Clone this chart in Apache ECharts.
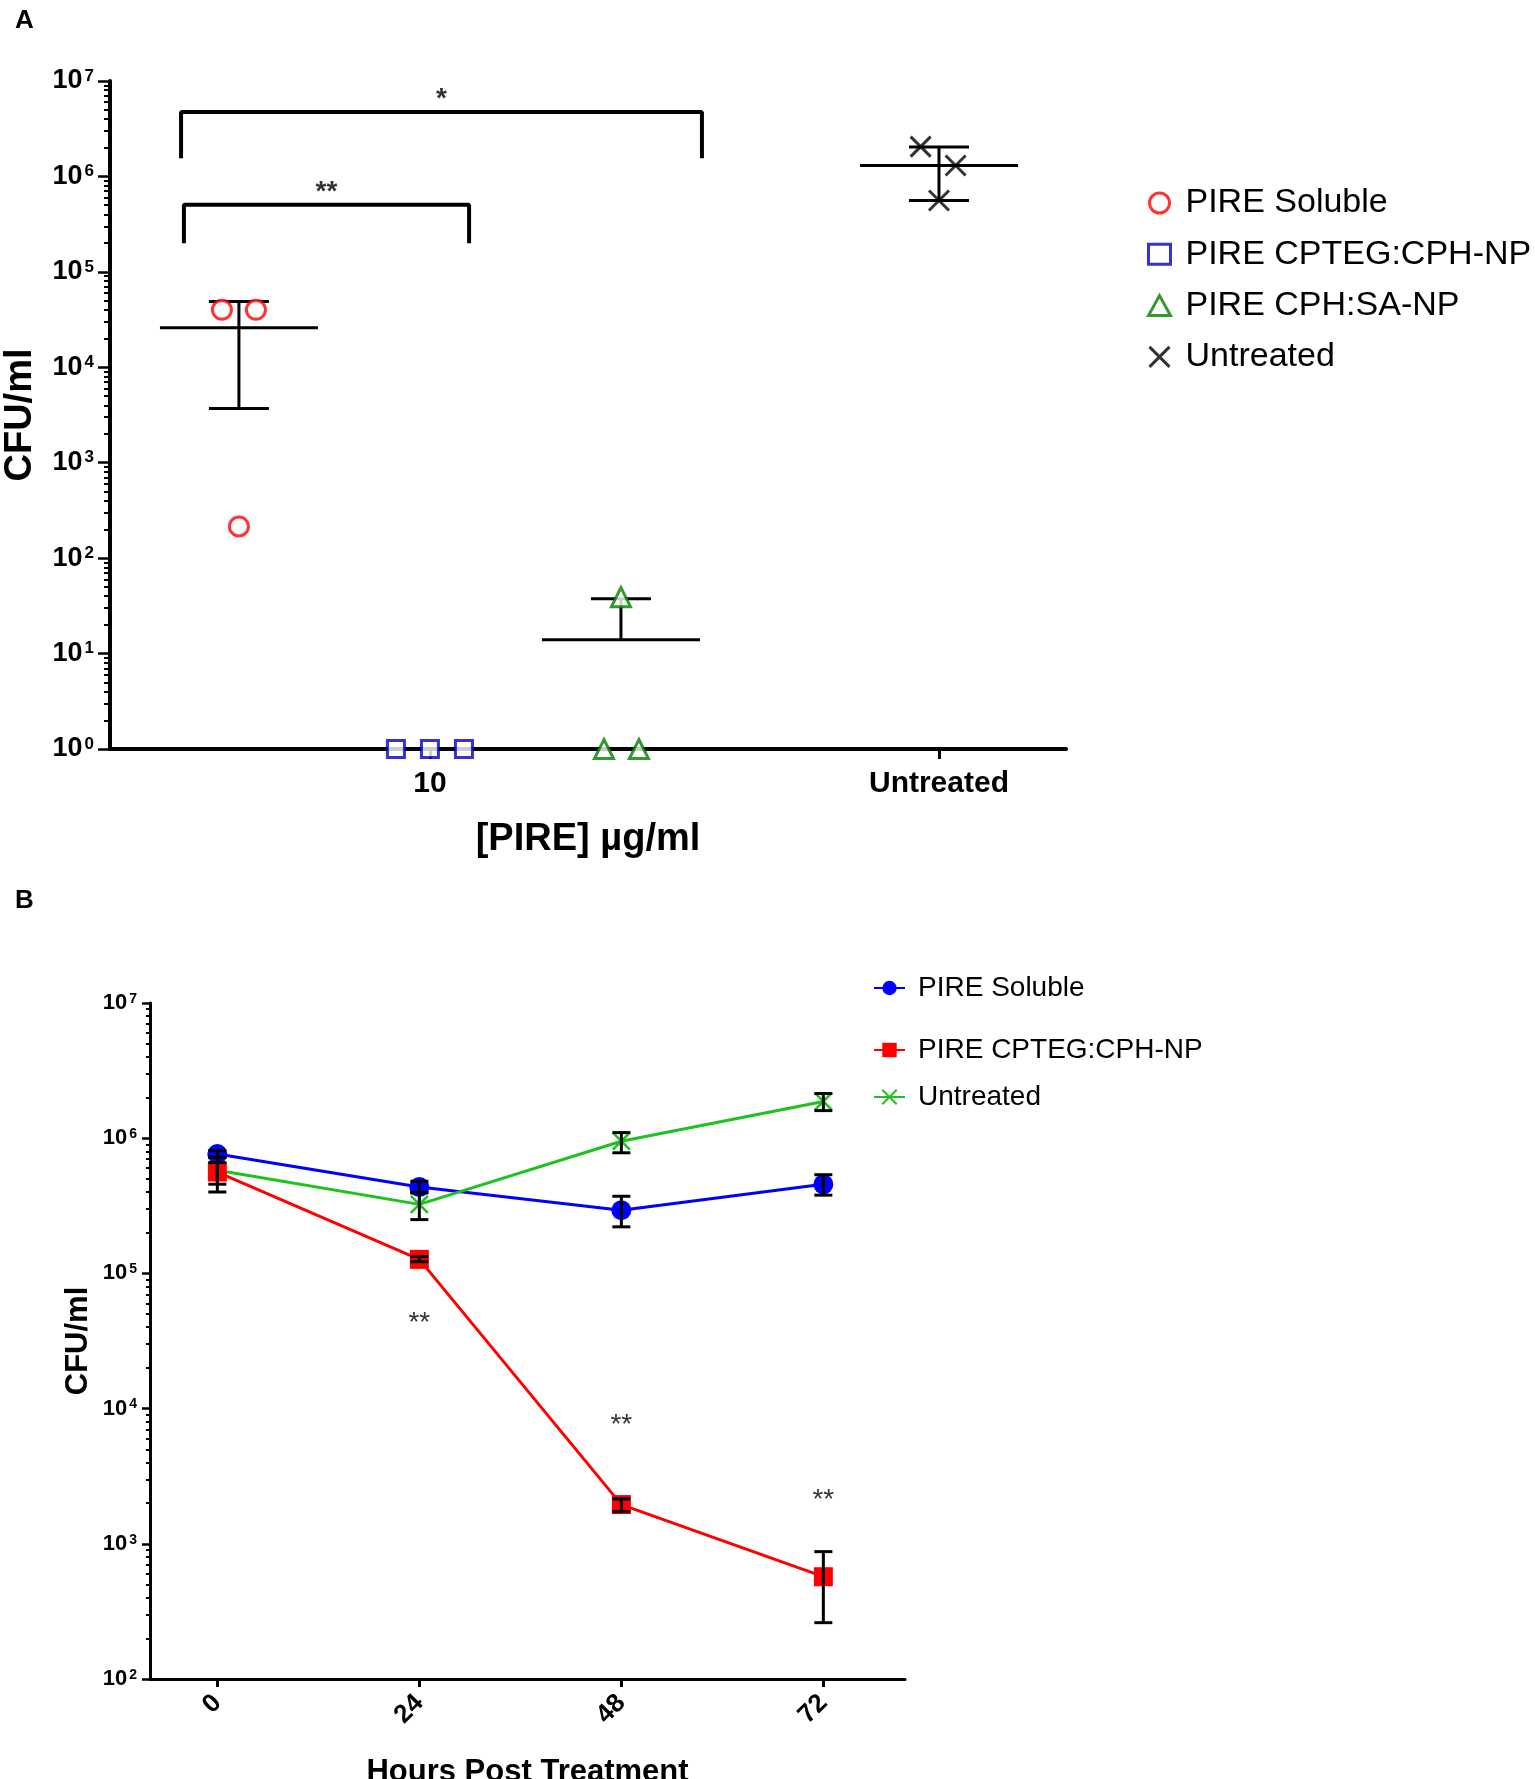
<!DOCTYPE html>
<html>
<head>
<meta charset="utf-8">
<script src="https://cdn.jsdelivr.net/npm/echarts@6/dist/echarts.min.js"></script>
<style>
html,body{margin:0;padding:0;background:#fff;}
#chart{width:1535px;height:1779px;}
</style>
</head>
<body>
<div id="chart"></div>
<script>
// ---------------- Panel A data ----------------
const groupNamesA = ['PIRE Soluble', 'PIRE CPTEG:CPH-NP', 'PIRE CPH:SA-NP', 'Untreated'];
const xTickLabelsA = ['10', 'Untreated'];
const solubleA = [4.0e4, 4.0e4, 215];
const cptegA = [1, 1, 1];
const cphsaA = [39, 1, 1];
const untreatedA = [2.05e6, 1.3e6, 5.6e5];
const meanA = [2.6e4, 1, 14, 1.3e6];
const sdLowA = [3.7e3, null, null, 5.6e5];
const sdHighA = [4.9e4, null, 37.5, 2.04e6];
const bracketFromA = [0.697, 0.712];
const bracketToA = [3.424, 2.205];
const bracketTopA = [4.73e6, 5.04e5];
const bracketFootA = [1.55e6, 2.0e5];
const bracketTextA = ['*', '**'];

// ---------------- Panel B data ----------------
const hoursB = [0, 24, 48, 72];
const seriesNamesB = ['PIRE Soluble', 'PIRE CPTEG:CPH-NP', 'Untreated'];
const solubleB = [7.64e5, 4.35e5, 2.93e5, 4.56e5];
const solubleLowB = [7.2e5, 3.95e5, 2.21e5, 3.79e5];
const solubleHighB = [8.1e5, 4.8e5, 3.72e5, 5.37e5];
const cptegB = [5.62e5, 1.27e5, 1.95e3, 571];
const cptegLowB = [4.0e5, 1.22e5, 1.73e3, 261];
const cptegHighB = [7.26e5, 1.33e5, 2.15e3, 875];
const untreatedB = [5.8e5, 3.24e5, 9.5e5, 1.87e6];
const untreatedLowB = [4.57e5, 2.5e5, 7.8e5, 1.6e6];
const untreatedHighB = [6.6e5, 3.95e5, 1.1e6, 2.14e6];
const sigHoursB = [24, 48, 72];
const sigLevelB = [4.7e4, 8.3e3, 2.34e3];
const sigTextB = ['**', '**', '**'];

// ---------------- layout constants ----------------
const groupX = [1, 2, 3, 4.665];
const xTickPosA = [2, 4.665];
const jitterA = [[-0.089, 0.089, 0], [-0.178, 0, 0.178], [0, -0.089, 0.094], [-0.096, 0.087, 0]];

const minorExpA = [], minorExpB = [];
for (let k = 0; k < 7; k++) for (let m = 2; m <= 9; m++) minorExpA.push(k + Math.log10(m));
for (let k = 2; k < 7; k++) for (let m = 2; m <= 9; m++) minorExpB.push(k + Math.log10(m));

const XPATH = 'path://M0,0L10,10M10,0L0,10';
const BOLD = 'Liberation Sans, Arial, sans-serif';

function pts(vals, gi) {
  return vals.map((v, j) => [groupX[gi] + jitterA[gi][j], v]);
}
function errData(xs, means, lows, highs) {
  return xs.map((x, i) => [x, means[i], lows[i] == null ? 0 : lows[i], highs[i] == null ? 0 : highs[i]]);
}
function errorBars(meanHalf, capHalf, lw) {
  return function (params, api) {
    const x = api.value(0), m = api.value(1), lo = api.value(2), hi = api.value(3);
    const pm = api.coord([x, m]);
    const st = { stroke: '#000', lineWidth: lw };
    const kids = [];
    if (meanHalf > 0) kids.push({ type: 'line', shape: { x1: pm[0] - meanHalf, y1: pm[1], x2: pm[0] + meanHalf, y2: pm[1] }, style: st });
    const yTop = hi > 0 ? api.coord([x, hi])[1] : pm[1];
    const yBot = lo > 0 ? api.coord([x, lo])[1] : pm[1];
    if (yBot - yTop > 0.5) kids.push({ type: 'line', shape: { x1: pm[0], y1: yTop, x2: pm[0], y2: yBot }, style: st });
    if (hi > 0) kids.push({ type: 'line', shape: { x1: pm[0] - capHalf, y1: yTop, x2: pm[0] + capHalf, y2: yTop }, style: st });
    if (lo > 0) kids.push({ type: 'line', shape: { x1: pm[0] - capHalf, y1: yBot, x2: pm[0] + capHalf, y2: yBot }, style: st });
    return { type: 'group', children: kids };
  };
}
function powLabel(v) {
  return '{b|10}{s|' + Math.round(Math.log10(v)) + '}';
}
function richTicks(bs, ss, raise) {
  return {
    b: { fontFamily: BOLD, fontWeight: 'bold', fontSize: bs, color: '#000', verticalAlign: 'bottom' },
    s: { fontFamily: BOLD, fontWeight: 'bold', fontSize: ss, color: '#000', verticalAlign: 'bottom', padding: [0, 0, raise, 2] }
  };
}

const chart = echarts.init(document.getElementById('chart'), null, { renderer: 'canvas' });

const brackets = bracketFromA.map((f, i) => ({
  type: 'line', xAxisIndex: 0, yAxisIndex: 0, silent: true, symbol: 'none',
  lineStyle: { color: '#000', width: 4 },
  data: [[f, bracketFootA[i]], [f, bracketTopA[i]], [bracketToA[i], bracketTopA[i]], [bracketToA[i], bracketFootA[i]]],
  z: 3
}));

const option = {
  animation: false,
  backgroundColor: '#fff',
  title: [
    { text: 'A', left: 10, top: 3, textStyle: { fontFamily: BOLD, fontWeight: 'bold', fontSize: 26, color: '#000' } },
    { text: 'B', left: 10, top: 883, textStyle: { fontFamily: BOLD, fontWeight: 'bold', fontSize: 26, color: '#000' } }
  ],
  legend: [
    {
      data: groupNamesA, orient: 'vertical', left: 1142, top: 181, itemGap: 17.3,
      itemWidth: 22, itemHeight: 20,
      itemStyle: { borderWidth: 3 },
      textStyle: { fontFamily: 'Liberation Sans, Arial', fontSize: 34, color: '#000', padding: [0, 0, 0, 10] }
    },
    {
      data: ['B|' + seriesNamesB[0]], orient: 'vertical', left: 868, top: 969,
      itemWidth: 31, itemHeight: 18,
      formatter: n => n.split('|')[1],
      textStyle: { fontFamily: 'Liberation Sans, Arial', fontSize: 28, color: '#000', padding: [0, 0, 0, 8] }
    },
    {
      data: ['B|' + seriesNamesB[1], 'B|' + seriesNamesB[2]], orient: 'vertical', left: 868, top: 1031, itemGap: 19,
      itemWidth: 31, itemHeight: 18,
      formatter: n => n.split('|')[1],
      textStyle: { fontFamily: 'Liberation Sans, Arial', fontSize: 28, color: '#000', padding: [0, 0, 0, 8] }
    }
  ],
  grid: [
    { left: 110, top: 81, width: 956, height: 668, outerBoundsMode: 'none', containLabel: false },
    { left: 150, top: 1003, width: 755, height: 676, outerBoundsMode: 'none', containLabel: false }
  ],
  xAxis: [
    {
      type: 'value', gridIndex: 0, min: 0.325, max: 5.33,
      name: '[PIRE] µg/ml', nameLocation: 'middle', nameGap: 72,
      nameTextStyle: { fontFamily: BOLD, fontWeight: 'bold', fontSize: 38, color: '#000' },
      axisLine: { show: true, onZero: false, lineStyle: { color: '#000', width: 4 } },
      axisTick: { show: true, length: 10, customValues: xTickPosA, lineStyle: { color: '#000', width: 3 } },
      axisLabel: {
        customValues: xTickPosA, margin: 20,
        formatter: v => xTickLabelsA[xTickPosA.findIndex(p => Math.abs(p - v) < 1e-6)] || '',
        fontFamily: BOLD, fontWeight: 'bold', fontSize: 30, color: '#000'
      },
      splitLine: { show: false }
    },
    {
      type: 'value', gridIndex: 1, min: -8, max: 81.7,
      name: 'Hours Post Treatment', nameLocation: 'middle', nameGap: 78,
      nameTextStyle: { fontFamily: BOLD, fontWeight: 'bold', fontSize: 31, color: '#000' },
      axisLine: { show: true, onZero: false, lineStyle: { color: '#000', width: 3 } },
      axisTick: { show: true, length: 8, customValues: hoursB, lineStyle: { color: '#000', width: 3 } },
      axisLabel: {
        customValues: hoursB, margin: 20, rotate: 45,
        fontFamily: BOLD, fontWeight: 'bold', fontSize: 26, color: '#000'
      },
      splitLine: { show: false }
    }
  ],
  yAxis: [
    {
      type: 'log', logBase: 10, gridIndex: 0, min: 1, max: 1e7,
      name: 'CFU/ml', nameLocation: 'middle', nameGap: 70, nameRotate: 90,
      nameTextStyle: { fontFamily: BOLD, fontWeight: 'bold', fontSize: 38, color: '#000' },
      axisLine: { show: true, onZero: false, lineStyle: { color: '#000', width: 4 } },
      axisTick: { show: true, length: 12, lineStyle: { color: '#000', width: 2.5 } },
      axisLabel: { margin: 16, formatter: powLabel, rich: richTicks(27, 17, 10) },
      splitLine: { show: false }, minorTick: { show: false }
    },
    {
      type: 'value', gridIndex: 0, min: 0, max: 7, position: 'left',
      axisLine: { show: false, onZero: false }, axisLabel: { show: false }, splitLine: { show: false },
      axisTick: { show: true, length: 6, customValues: minorExpA, lineStyle: { color: '#000', width: 2 } }
    },
    {
      type: 'log', logBase: 10, gridIndex: 1, min: 100, max: 1e7,
      name: 'CFU/ml', nameLocation: 'middle', nameGap: 56, nameRotate: 90,
      nameTextStyle: { fontFamily: BOLD, fontWeight: 'bold', fontSize: 31, color: '#000' },
      axisLine: { show: true, onZero: false, lineStyle: { color: '#000', width: 3 } },
      axisTick: { show: true, length: 8, lineStyle: { color: '#000', width: 2.5 } },
      axisLabel: { margin: 13, formatter: powLabel, rich: richTicks(22, 14, 8) },
      splitLine: { show: false }, minorTick: { show: false }
    },
    {
      type: 'value', gridIndex: 1, min: 2, max: 7, position: 'left',
      axisLine: { show: false, onZero: false }, axisLabel: { show: false }, splitLine: { show: false },
      axisTick: { show: true, length: 4, customValues: minorExpB, lineStyle: { color: '#000', width: 2 } }
    }
  ],
  series: [
    // ---- Panel A ----
    ...brackets,
    {
      type: 'scatter', xAxisIndex: 0, yAxisIndex: 0, silent: true, symbolSize: 0,
      data: bracketFromA.map((f, i) => ({ value: [(f + bracketToA[i]) / 2, bracketTopA[i]], name: bracketTextA[i] })),
      label: { show: true, position: 'inside', offset: [0, -13], formatter: p => p.name,
        fontFamily: BOLD, fontWeight: 'bold', fontSize: 28, color: '#000' },
      z: 3
    },
    {
      type: 'custom', xAxisIndex: 0, yAxisIndex: 0, silent: true,
      renderItem: errorBars(79, 30, 3), encode: { x: 0, y: 1 },
      data: errData(groupX, meanA, sdLowA, sdHighA), z: 2
    },
    {
      name: groupNamesA[0], type: 'scatter', xAxisIndex: 0, yAxisIndex: 0, symbol: 'circle', symbolSize: 19,
      itemStyle: { color: '#fff', borderColor: '#ff0000', borderWidth: 3 }, data: pts(solubleA, 0), z: 4
    },
    {
      name: groupNamesA[1], type: 'scatter', xAxisIndex: 0, yAxisIndex: 0, symbol: 'rect', symbolSize: 17,
      itemStyle: { color: '#fff', borderColor: '#0000c8', borderWidth: 3 }, data: pts(cptegA, 1), z: 4
    },
    {
      name: groupNamesA[2], type: 'scatter', xAxisIndex: 0, yAxisIndex: 0, symbol: 'triangle', symbolSize: 19,
      itemStyle: { color: '#fff', borderColor: '#008000', borderWidth: 3 }, data: pts(cphsaA, 2), z: 4
    },
    {
      name: groupNamesA[3], type: 'scatter', xAxisIndex: 0, yAxisIndex: 0, symbol: XPATH, symbolSize: 20,
      itemStyle: { color: 'rgba(0,0,0,0)', borderColor: '#000', borderWidth: 3 }, data: pts(untreatedA, 3), z: 4
    },
    // ---- Panel B ----
    {
      name: 'B|' + seriesNamesB[0], type: 'line', xAxisIndex: 1, yAxisIndex: 2,
      symbol: 'circle', symbolSize: 20, showSymbol: true,
      lineStyle: { color: '#0000ff', width: 3 }, itemStyle: { color: '#0000ff', borderWidth: 0 },
      data: hoursB.map((h, i) => [h, solubleB[i]]), z: 3
    },
    {
      name: 'B|' + seriesNamesB[2], type: 'line', xAxisIndex: 1, yAxisIndex: 2,
      symbol: XPATH, symbolSize: 17, showSymbol: true,
      lineStyle: { color: '#1ec21e', width: 3 }, itemStyle: { color: 'rgba(0,0,0,0)', borderColor: '#1ec21e', borderWidth: 2.5 },
      data: hoursB.map((h, i) => [h, untreatedB[i]]), z: 3
    },
    {
      name: 'B|' + seriesNamesB[1], type: 'line', xAxisIndex: 1, yAxisIndex: 2,
      symbol: 'rect', symbolSize: 19, showSymbol: true,
      lineStyle: { color: '#ff0000', width: 3 }, itemStyle: { color: '#ff0000', borderWidth: 0 },
      data: hoursB.map((h, i) => [h, cptegB[i]]), z: 3
    },
    {
      type: 'custom', xAxisIndex: 1, yAxisIndex: 2, silent: true,
      renderItem: errorBars(0, 9, 3), encode: { x: 0, y: 1 },
      data: [].concat(errData(hoursB, solubleB, solubleLowB, solubleHighB),
                      errData(hoursB, cptegB, cptegLowB, cptegHighB),
                      errData(hoursB, untreatedB, untreatedLowB, untreatedHighB)),
      z: 5
    },
    {
      type: 'scatter', xAxisIndex: 1, yAxisIndex: 2, silent: true, symbolSize: 0,
      data: sigHoursB.map((h, i) => ({ value: [h, sigLevelB[i]], name: sigTextB[i] })),
      label: { show: true, position: 'inside', offset: [0, 6], formatter: p => p.name,
        fontFamily: 'Liberation Sans, Arial', fontSize: 28, color: '#000' },
      z: 5
    }
  ]
};
chart.setOption(option);
</script>
</body>
</html>
